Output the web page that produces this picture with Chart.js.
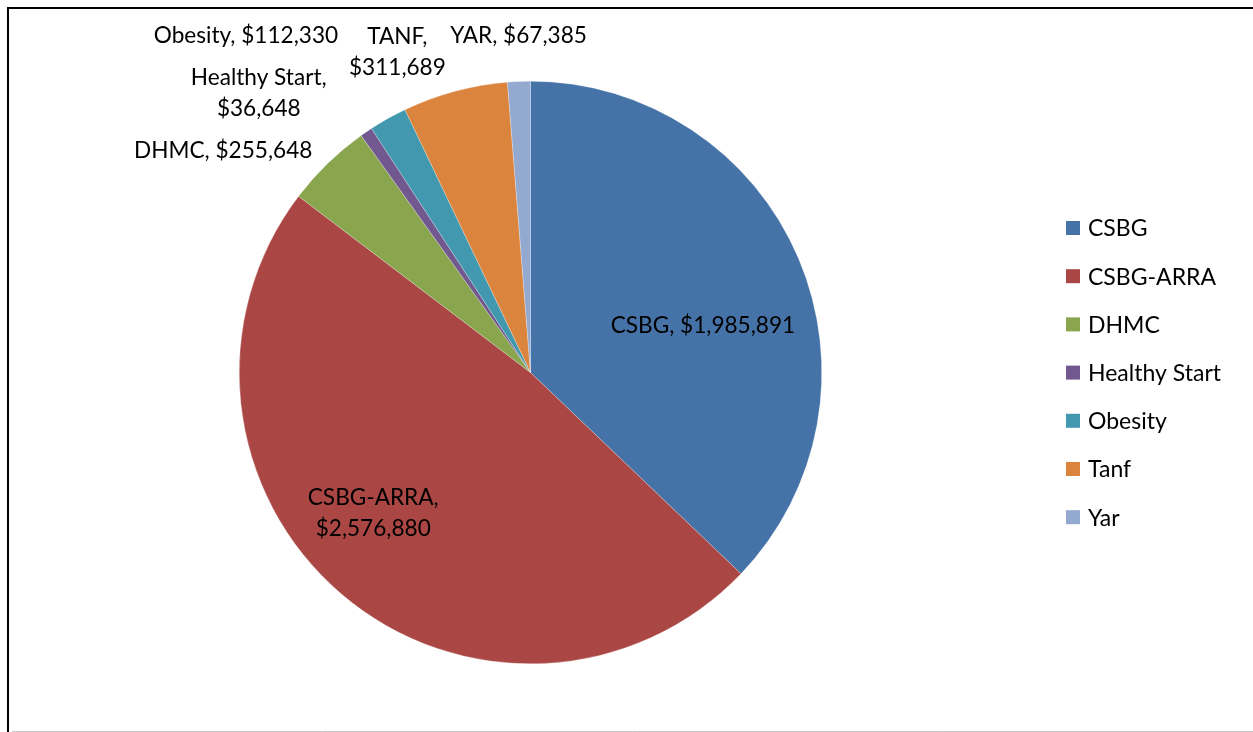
<!DOCTYPE html>
<html>
<head>
<meta charset="utf-8">
<script src="https://cdn.jsdelivr.net/npm/chart.js@4/dist/chart.umd.min.js"></script>
<style>
  html, body { margin: 0; padding: 0; background: #fff; }
  #wrap { width: 1253px; height: 732px; position: relative; }
</style>
</head>
<body>
<div id="wrap"><canvas id="myChart"></canvas></div>
<script>
// Funding sources and amounts
const categories = ['CSBG', 'CSBG-ARRA', 'DHMC', 'Healthy Start', 'Obesity', 'Tanf', 'Yar'];
const amounts = [1985891, 2576880, 255648, 36648, 112330, 311689, 67385];
// Names used on the data labels (differ a bit from the legend)
const labelNames = ['CSBG', 'CSBG-ARRA', 'DHMC', 'Healthy Start', 'Obesity', 'TANF', 'YAR'];
const colors = ['#4572A7', '#AA4643', '#89A54E', '#71588F', '#4198AF', '#DB843D', '#93A9CF'];

// Where each data label sits, relative to pie centre in units of radius,
// and whether it breaks after the comma
const labelPlace = [
  { dx: 0.592, dy: -0.160, split: false },
  { dx: -0.540, dy: 0.482, split: true },
  { dx: -1.055, dy: -0.760, split: false },
  { dx: -0.933, dy: -0.960, split: true },
  { dx: -0.977, dy: -1.155, split: false },
  { dx: -0.457, dy: -1.101, split: true },
  { dx: -0.041, dy: -1.155, split: false }
];

const FONT = '22.6px Lato';
const LEGEND_FONT = '23px Lato';

function money(v) {
  return '$' + v.toLocaleString('en-US');
}

// Frame round the chart like the original sheet object
const framePlugin = {
  id: 'frame',
  beforeDraw(chart) {
    const c = chart.ctx;
    c.save();
    c.fillStyle = '#fff';
    c.fillRect(0, 0, chart.width, chart.height);
    c.strokeStyle = '#000';
    c.lineWidth = 2;
    c.beginPath();
    c.moveTo(8, 732);
    c.lineTo(8, 8);
    c.lineTo(1253, 8);
    c.stroke();
    c.strokeStyle = '#c8c8c8';
    c.lineWidth = 1;
    c.beginPath();
    c.moveTo(12, 731.5);
    c.lineTo(1253, 731.5);
    c.stroke();
    c.restore();
  }
};

// Data labels drawn next to the slices
const labelPlugin = {
  id: 'sliceLabels',
  afterDatasetsDraw(chart) {
    const c = chart.ctx;
    const arcs = chart.getDatasetMeta(0).data;
    c.save();
    c.font = FONT;
    c.fillStyle = '#000';
    c.textAlign = 'center';
    c.textBaseline = 'middle';
    arcs.forEach(function (arc, i) {
      const p = labelPlace[i];
      const x = arc.x + p.dx * arc.outerRadius;
      const y = arc.y + p.dy * arc.outerRadius;
      const name = labelNames[i] + ',';
      const val = money(amounts[i]);
      if (p.split) {
        c.fillText(name, x, y - 15.5);
        c.fillText(val, x, y + 15.5);
      } else {
        c.fillText(name + ' ' + val, x, y);
      }
    });
    c.restore();
  }
};

// Legend on the right with square keys
const legendPlugin = {
  id: 'sideLegend',
  afterDraw(chart) {
    const c = chart.ctx;
    c.save();
    c.font = LEGEND_FONT;
    c.textBaseline = 'middle';
    categories.forEach(function (name, i) {
      const y = 228 + i * 48.2;
      c.fillStyle = colors[i];
      c.fillRect(1066, y - 7, 14, 14);
      c.fillStyle = '#000';
      c.fillText(name, 1088, y + 1);
    });
    c.restore();
  }
};

new Chart(document.getElementById('myChart'), {
  type: 'pie',
  data: {
    labels: categories,
    datasets: [{
      data: amounts,
      backgroundColor: colors,
      borderColor: 'rgba(255,255,255,0.5)',
      borderWidth: 0.5
    }]
  },
  options: {
    responsive: true,
    maintainAspectRatio: false,
    animation: false,
    layout: {
      padding: { left: 239, right: 431, top: 81, bottom: 68 }
    },
    plugins: {
      legend: { display: false },
      tooltip: { enabled: false }
    }
  },
  plugins: [framePlugin, labelPlugin, legendPlugin]
});
</script>
</body>
</html>
